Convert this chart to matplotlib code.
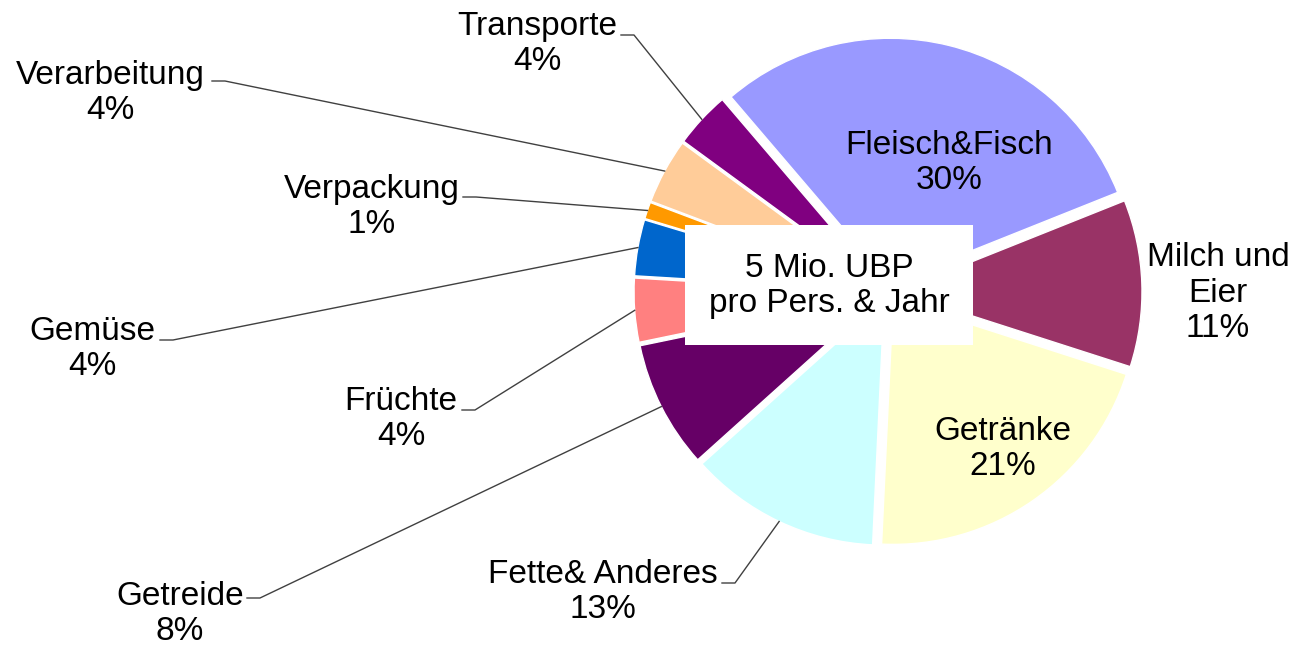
import numpy as np
import matplotlib.pyplot as plt
from matplotlib.patches import Rectangle

plt.rcParams['font.family'] = ['Liberation Sans', 'DejaVu Sans']

# data
categories = ['Fleisch&Fisch', 'Milch und\nEier', 'Getränke', 'Fette& Anderes', 'Getreide',
              'Früchte', 'Gemüse', 'Verpackung', 'Verarbeitung', 'Transporte']
shares = [30.2, 11.0, 20.8, 12.6, 8.4, 4.2, 3.7, 1.1, 4.3, 3.7]
colors = ['#9999FF', '#993366', '#FFFFCC', '#CCFFFF', '#660066',
          '#FF8080', '#0066CC', '#FF9900', '#FFCC99', '#800080']
center_text = '5 Mio. UBP\npro Pers. & Jahr'

W, H = 1292, 645
fig = plt.figure(figsize=(W / 100, H / 100), dpi=100)
ax = fig.add_axes([0, 0, 1, 1])

# pie in pixel units (y measured upward)
cx, cy, r = 888, H - 292, 245
wedges, _ = ax.pie(shares, colors=colors, startangle=130.5, counterclock=False,
                   center=(cx, cy), radius=r, explode=[9] * len(shares),
                   wedgeprops=dict(edgecolor='white', linewidth=1))
ax.set_xlim(0, W)
ax.set_ylim(0, H)
ax.set_aspect('equal')
ax.axis('off')

# label layout, pixel coords from top-left
label_pos = [(949, 163), (1218, 293), (1003, 449), (603, 592), (180, 614),
             (401, 419), (92, 349), (372, 207), (110, 93), (537, 44)]
tick_pos = [None, None, None, (722, 583), (247, 598),
            (462, 410), (160, 340), (463, 197), (212, 81), (621, 35)]

for w, cat, v, (lx, ly), tp in zip(wedges, categories, shares, label_pos, tick_pos):
    ax.text(lx, H - ly, f"{cat}\n{round(v)}%", ha='center', va='center',
            fontsize=24, linespacing=1.2, color='black', zorder=5)
    if tp is not None:
        th = np.deg2rad((w.theta1 + w.theta2) / 2)
        px = w.center[0] + w.r * np.cos(th)
        py = w.center[1] + w.r * np.sin(th)
        tx, ty = tp
        ax.plot([tx, tx + 13, px], [H - ty, H - ty, py], color='#404040', lw=1, zorder=1)

# centre box
ax.add_patch(Rectangle((685, H - 345), 288, 120, facecolor='white', edgecolor='none', zorder=4))
ax.text(829, H - 286, center_text, ha='center', va='center', fontsize=24,
        linespacing=1.2, zorder=5)

fig.savefig('out.png', dpi=100)
